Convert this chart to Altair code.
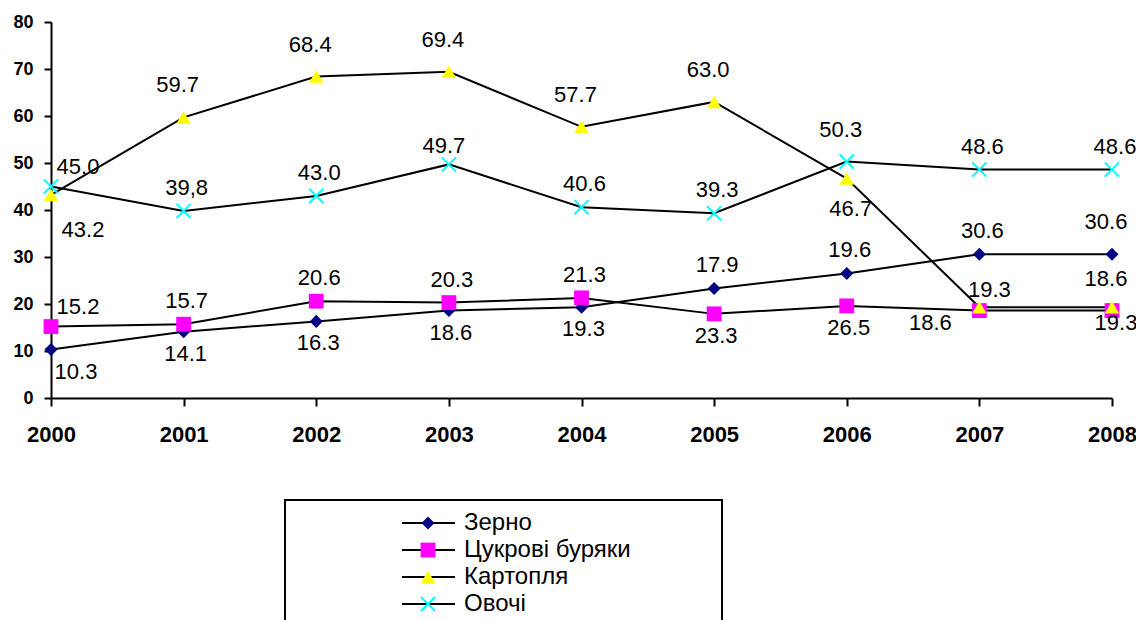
import altair as alt
import pandas as pd

# ---------------- data ----------------
years = [2000, 2001, 2002, 2003, 2004, 2005, 2006, 2007, 2008]
series_names = ["Зерно", "Цукрові буряки", "Картопля", "Овочі"]

grain = [10.3, 14.1, 16.3, 18.6, 19.3, 23.3, 26.5, 30.6, 30.6]
beet = [15.2, 15.7, 20.6, 20.3, 21.3, 17.9, 19.6, 18.6, 18.6]
potato = [43.2, 59.7, 68.4, 69.4, 57.7, 63.0, 46.7, 19.3, 19.3]
veg = [45.0, 39.8, 43.0, 49.7, 40.6, 39.3, 50.3, 48.6, 48.6]

# data-label texts as printed on the original chart
grain_labels = ["10.3", "14.1", "16.3", "18.6", "19.3", "17.9", "19.6", "30.6", "30.6"]
beet_labels = ["15.2", "15.7", "20.6", "20.3", "21.3", "23.3", "26.5", "18.6", "18.6"]
potato_labels = ["43.2", "59.7", "68.4", "69.4", "57.7", "63.0", "46.7", "19.3", "19.3"]
veg_labels = ["45.0", "39,8", "43.0", "49.7", "40.6", "39.3", "50.3", "48.6", "48.6"]

# label placement keywords (relative to the point)
grain_place = ["se", "s", "s", "s", "s", "n", "n", "n", "nn"]
beet_place = ["ne", "n", "n", "n", "n", "s", "s", "sw", "nn"]
potato_place = ["sse", "nn", "nn", "nn", "nn", "nn", "ss", "ne2", "s2"]
veg_place = ["ne", "n", "n", "n2", "n", "n", "nn", "n", "n"]

y_ticks = [0, 10, 20, 30, 40, 50, 60, 70, 80]

values = [grain, beet, potato, veg]
labels = [grain_labels, beet_labels, potato_labels, veg_labels]
places = [grain_place, beet_place, potato_place, veg_place]

rows = []
for s, vals, labs, pls in zip(series_names, values, labels, places):
    for yr, v, lab, pl in zip(years, vals, labs, pls):
        rows.append({"series": s, "year": yr, "value": v, "label": lab, "place": pl})
df = pd.DataFrame(rows)

legend_df = pd.DataFrame({"series": series_names, "row": list(range(len(series_names)))})

# ---------------- styles ----------------
FONT = "Liberation Sans"
PLACE = {
    "n": (3, -23), "n2": (-5, -18), "nn": (-6, -32),
    "s": (2, 22), "s2": (4, 16), "ss": (4, 30),
    "se": (25, 22), "ne": (27, -20), "ne2": (10, -17),
    "sse": (32, 35), "sw": (-49, 12),
}
MARKERS = {
    "Зерно": dict(shape="diamond", filled=True, fill="#000080", color="#000080", size=170),
    "Цукрові буряки": dict(shape="square", filled=True, fill="#FF00FF", color="#FF00FF", size=220),
    "Картопля": dict(shape="triangle-up", filled=True, fill="#FFFF00", color="#FFFF00", size=210),
    "Овочі": dict(shape="M-1,-1L1,1M-1,1L1,-1", filled=False, stroke="#00FFFF",
                  color="#00FFFF", strokeWidth=2, size=200),
}

X = alt.X("year:O", title=None,
          scale=alt.Scale(type="point", padding=0),
          axis=alt.Axis(labelAngle=0, labelFont=FONT, labelFontSize=22, labelFontWeight="bold",
                        labelColor="black", labelPadding=18, tickSize=8, tickColor="black",
                        tickWidth=2, domainColor="black", domainWidth=2, grid=False))
Y = alt.Y("value:Q", title=None,
          scale=alt.Scale(domain=[0, 80], nice=False, zero=True),
          axis=alt.Axis(values=y_ticks, labelFont=FONT, labelFontSize=18, labelFontWeight="bold",
                        labelColor="black", labelPadding=11, tickSize=7, tickColor="black",
                        tickWidth=2, domainColor="black", domainWidth=2, grid=False))

base = alt.Chart(df)

lines = base.mark_line(color="black", strokeWidth=2).encode(x=X, y=Y, detail="series:N")

point_layers = []
for s in series_names:
    point_layers.append(
        base.transform_filter(alt.datum.series == s)
        .mark_point(opacity=1, **MARKERS[s])
        .encode(x=X, y=Y)
    )

label_layers = []
for key, (ddx, ddy) in PLACE.items():
    label_layers.append(
        base.transform_filter(alt.datum.place == key)
        .mark_text(dx=ddx, dy=ddy, font=FONT, fontSize=22, color="black",
                   align="center", baseline="middle")
        .encode(x=X, y=Y, text="label:N")
    )

main = alt.layer(lines, *point_layers, *label_layers)

# ---------------- legend ----------------
LY = alt.Y("row:Q", scale=alt.Scale(domain=[0, 3], range=[501, 582]), axis=None)
lbase = alt.Chart(legend_df)
legend_box = lbase.mark_rect(fill="white", stroke="black", strokeWidth=2).encode(
    x=alt.value(234), x2=alt.value(671), y=alt.value(478), y2=alt.value(660))
legend_lines = lbase.mark_rule(color="black", strokeWidth=2).encode(
    x=alt.value(351), x2=alt.value(404), y=LY)
legend_pts = []
for s in series_names:
    legend_pts.append(
        lbase.transform_filter(alt.datum.series == s)
        .mark_point(opacity=1, **MARKERS[s])
        .encode(x=alt.value(377), y=LY)
    )
legend_text = lbase.mark_text(font=FONT, fontSize=24, color="black", align="left",
                              baseline="middle").encode(x=alt.value(413), y=LY, text="series:N")
legend = alt.layer(legend_box, legend_lines, *legend_pts, legend_text)

chart = (
    alt.layer(main, legend)
    .resolve_scale(y="independent")
    .properties(width=1061, height=376,
                padding={"left": 43, "top": 14, "right": 24, "bottom": 222},
                autosize=alt.AutoSizeParams(type="none"),
                background="white")
    .configure_view(stroke=None)
)

chart.save("out.html", embed_options={"renderer": "svg", "actions": False})
